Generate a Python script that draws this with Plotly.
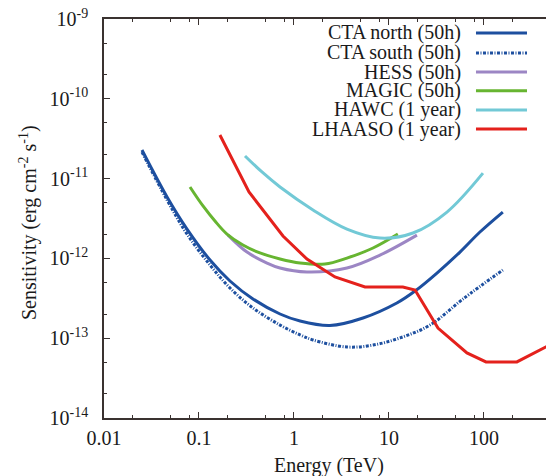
import plotly.graph_objects as go

# ---- data (TeV, erg cm^-2 s^-1) ----
cta_n_E = [0.0251, 0.0461, 0.0748, 0.1306, 0.212, 0.370, 0.713, 1.16, 2.39, 5.33, 12.1, 18.8, 32.0, 55.9, 90.7, 158]
cta_n_S = [2.28e-11, 5.88e-12, 2.33e-12, 9.55e-13, 5.21e-13, 3.10e-13, 2.01e-13, 1.64e-13, 1.44e-13, 1.79e-13, 2.76e-13, 3.90e-13, 6.56e-13, 1.20e-12, 2.14e-12, 3.81e-12]

cta_s_E = [0.0251, 0.0461, 0.0748, 0.1306, 0.212, 0.370, 0.713, 1.16, 1.585, 3.61, 6.79, 13.1, 27.0, 60.1, 158]
cta_s_S = [2.15e-11, 5.4e-12, 2.02e-12, 8.26e-13, 4.26e-13, 2.39e-13, 1.46e-13, 1.10e-13, 9.5e-14, 7.76e-14, 8.2e-14, 1.01e-13, 1.46e-13, 3.1e-13, 7.16e-13]

hess_E = [0.202, 0.320, 0.520, 0.713, 1.37, 3.61, 8.04, 19.7]
hess_S = [1.96e-12, 1.20e-12, 8.75e-13, 7.58e-13, 6.76e-13, 7.58e-13, 1.10e-12, 1.96e-12]

magic_E = [0.0804, 0.1102, 0.1473, 0.197, 0.290, 0.438, 0.713, 1.16, 2.12, 3.61, 6.79, 12.4]
magic_S = [7.85e-12, 4.54e-12, 2.94e-12, 2.02e-12, 1.47e-12, 1.17e-12, 9.82e-13, 8.75e-13, 8.5e-13, 1.01e-12, 1.35e-12, 2.02e-12]

hawc_E = [0.305, 0.460, 0.713, 1.585, 3.61, 8.04, 17.9, 40.8, 97.5]
hawc_S = [1.92e-11, 1.21e-11, 7.85e-12, 4.05e-12, 2.33e-12, 1.80e-12, 2.08e-12, 3.81e-12, 1.17e-11]

lhaaso_E = [0.166, 0.336, 0.766, 1.37, 2.70, 5.59, 14.0, 18.8, 32.8, 66.2, 105, 222, 500]
lhaaso_S = [3.52e-11, 6.8e-12, 1.91e-12, 9.8e-13, 5.85e-13, 4.39e-13, 4.39e-13, 4.02e-13, 1.34e-13, 6.53e-14, 5.04e-14, 5.04e-14, 8.3e-14]

names = ["CTA north (50h)", "CTA south (50h)", "HESS (50h)", "MAGIC (50h)", "HAWC (1 year)", "LHAASO (1 year)"]

x_tickvals = [0.01, 0.1, 1, 10, 100]
x_ticktext = ["0.01", "0.1", "1", "10", "100"]
y_tickvals = [1e-14, 1e-13, 1e-12, 1e-11, 1e-10, 1e-9]
y_ticktext = ["10<sup>-14</sup>", "10<sup>-13</sup>", "10<sup>-12</sup>", "10<sup>-11</sup>", "10<sup>-10</sup>", "10<sup>-9</sup>"]

# ---- styles ----
blue = "#1d4f9f"
styles = [
    dict(color=blue, width=3, dash="solid"),
    dict(color=blue, width=3, dash="3px,1.5px,1px,1.5px"),
    dict(color="#9c86c4", width=3, dash="solid"),
    dict(color="#67b531", width=3, dash="solid"),
    dict(color="#72c9d6", width=3, dash="solid"),
    dict(color="#e4211c", width=3, dash="solid"),
]
series = [(cta_n_E, cta_n_S), (cta_s_E, cta_s_S), (hess_E, hess_S),
          (magic_E, magic_S), (hawc_E, hawc_S), (lhaaso_E, lhaaso_S)]

fig = go.Figure()
for (xe, ys), nm, st in zip(series, names, styles):
    is_lh = nm.startswith("LHAASO")
    fig.add_trace(go.Scatter(x=xe, y=ys, mode="lines", name=nm, line=st,
                             line_shape="linear" if is_lh else "spline",
                             showlegend=False))

font = dict(family="Liberation Serif, Times New Roman, serif", size=20, color="#1a1a1a")
axcol = "#3a3230"

# manual legend (text right, sample line on right)
leg_y = [0.965, 0.915, 0.867, 0.820, 0.772, 0.724]
for nm, st, yy in zip(names, styles, leg_y):
    fig.add_annotation(xref="paper", yref="paper", x=0.812, y=yy, text=nm,
                       showarrow=False, xanchor="right", yanchor="middle", font=font)
    fig.add_shape(type="line", xref="paper", yref="paper", x0=0.8416, x1=0.957,
                  y0=yy, y1=yy, line=st)

# axis titles
fig.add_annotation(xref="paper", yref="paper", x=0.509, y=-0.118, text="Energy (TeV)",
                   showarrow=False, xanchor="center", yanchor="middle", font=font)
fig.add_annotation(xref="paper", yref="paper", x=-0.172, y=0.491,
                   text="Sensitivity (erg cm<sup>-2</sup> s<sup>-1</sup>)", textangle=-90,
                   showarrow=False, xanchor="center", yanchor="middle", font=font)

minor_x = []
for d in [0.01, 0.1, 1, 10, 100]:
    for m in [2, 5, 8]:
        minor_x.append(d * m)
minor_y = []
for d in [1e-14, 1e-13, 1e-12, 1e-11, 1e-10]:
    for m in [2, 5]:
        minor_y.append(d * m)

fig.update_layout(
    width=546, height=476,
    margin=dict(l=104, r=0, t=19, b=58),
    paper_bgcolor="white", plot_bgcolor="white",
    font=font,
    xaxis=dict(type="log", range=[-2, 2.653], showgrid=False, zeroline=False, automargin=False,
               showline=True, linecolor=axcol, linewidth=1.5, mirror="ticks",
               ticks="inside", ticklen=6, tickcolor=axcol, tickwidth=1,
               tickvals=x_tickvals, ticktext=x_ticktext, ticklabelstandoff=1,
               minor=dict(tickvals=minor_x, ticks="inside", ticklen=3, tickcolor=axcol, showgrid=False)),
    yaxis=dict(type="log", range=[-14, -9], showgrid=False, zeroline=False, automargin=False,
               showline=True, linecolor=axcol, linewidth=1.5, mirror=False,
               ticks="inside", ticklen=6, tickcolor=axcol, tickwidth=1,
               tickvals=y_tickvals, ticktext=y_ticktext, ticklabelstandoff=10,
               minor=dict(tickvals=minor_y, ticks="inside", ticklen=3, tickcolor=axcol, showgrid=False)),
)

fig.write_html("out.html", config={"displayModeBar": False},
               post_script="document.body.style.margin='0';")
